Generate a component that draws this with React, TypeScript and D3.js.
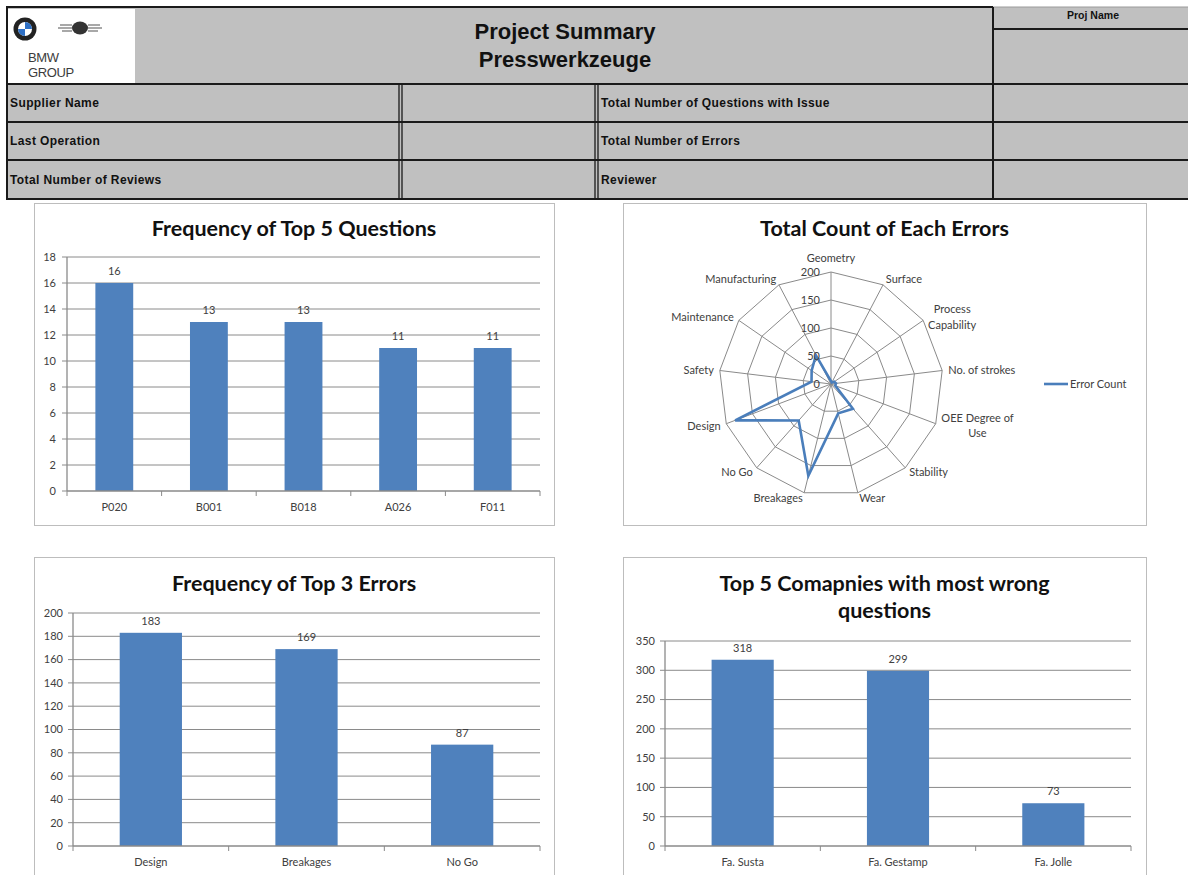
import React from "react";
import * as d3 from "d3";

// ---------- data ----------
const questionCats = ["P020", "B001", "B018", "A026", "F011"];
const questionVals = [16, 13, 13, 11, 11];

const errorAxes = [
  "Geometry", "Surface", "Process Capability", "No. of strokes", "OEE Degree of Use",
  "Stability", "Wear", "Breakages", "No Go", "Design", "Safety", "Maintenance", "Manufacturing",
];
const errorLabelLines = [
  ["Geometry"], ["Surface"], ["Process", "Capability"], ["No. of strokes"], ["OEE Degree of", "Use"],
  ["Stability"], ["Wear"], ["Breakages"], ["No Go"], ["Design"], ["Safety"], ["Maintenance"], ["Manufacturing"],
];
const errorVals = [5, 3, 7, 9, 8, 59, 54, 169, 87, 183, 35, 42, 58];
const radarTicks = [0, 50, 100, 150, 200];

const top3Cats = ["Design", "Breakages", "No Go"];
const top3Vals = [183, 169, 87];

const companyCats = ["Fa. Susta", "Fa. Gestamp", "Fa. Jolle"];
const companyVals = [318, 299, 73];

// ---------- style ----------
const BAR = "#4f81bd";
const LINE = "#4a7ebb";
const GRID = "#8a8a8a";
const TXT = "#404040";
const CHART_FONT = "Lato, 'Open Sans', sans-serif";
const HEAD_FONT = "'Liberation Sans', Arial, sans-serif";
const HEAD_GRAY = "#c0c0c0";
const FS = 11;

let _ctx: CanvasRenderingContext2D | null = null;
function textW(s: string, font: string) {
  if (!_ctx) _ctx = document.createElement("canvas").getContext("2d");
  if (!_ctx) return s.length * 5.5;
  _ctx.font = font;
  return _ctx.measureText(s).width;
}

function BarChart(props: {
  x0: number; x1: number; yBottom: number; yTop: number;
  cats: string[]; vals: number[]; max: number; step: number;
  labelRight: number;
}) {
  const { x0, x1, yBottom, yTop, cats, vals, max, step, labelRight } = props;
  const x = d3.scaleBand<string>().domain(cats).range([x0, x1]).paddingInner(0.6).paddingOuter(0.3);
  const y = d3.scaleLinear().domain([0, max]).range([yBottom, yTop]);
  const ticks = d3.range(0, max + step / 2, step);
  const bandStep = x.step();
  return (
    <g>
      {ticks.map((t) => (
        <g key={t}>
          {t > 0 && <line x1={x0} x2={x1} y1={y(t)} y2={y(t)} stroke={GRID} strokeWidth={1} />}
          <line x1={x0 - 5} x2={x0} y1={y(t)} y2={y(t)} stroke={GRID} strokeWidth={1} />
          <text x={labelRight} y={y(t)} dy="0.35em" textAnchor="end" fontSize={FS} fill={TXT} fontFamily={CHART_FONT}>{t}</text>
        </g>
      ))}
      {cats.map((c, i) => (
        <g key={c}>
          <rect x={x(c)} y={y(vals[i])} width={x.bandwidth()} height={yBottom - y(vals[i])} fill={BAR} />
          <text x={(x(c) as number) + x.bandwidth() / 2} y={y(vals[i]) - 8} textAnchor="middle" fontSize={FS} fill={TXT} fontFamily={CHART_FONT}>{vals[i]}</text>
          <text x={(x(c) as number) + x.bandwidth() / 2} y={yBottom + 20} textAnchor="middle" fontSize={FS} fill={TXT} fontFamily={CHART_FONT}>{c}</text>
        </g>
      ))}
      {d3.range(cats.length + 1).map((i) => (
        <line key={"t" + i} x1={x0 + i * bandStep} x2={x0 + i * bandStep} y1={yBottom} y2={yBottom + 5} stroke={GRID} strokeWidth={1} />
      ))}
      <line x1={x0} x2={x0} y1={yTop} y2={yBottom} stroke={GRID} strokeWidth={1.3} />
      <line x1={x0} x2={x1} y1={yBottom} y2={yBottom} stroke={GRID} strokeWidth={1.3} />
    </g>
  );
}

function Radar() {
  const cx = 831, cy = 384, R = 112;
  const n = errorAxes.length;
  const r = d3.scaleLinear().domain([0, 200]).range([0, R]);
  const ang = (i: number) => (i * 2 * Math.PI) / n;
  const ring = d3.lineRadial<number>().angle((_, i) => ang(i)).curve(d3.curveLinearClosed);
  const dataLine = d3
    .lineRadial<number>()
    .angle((_, i) => ang(i))
    .radius((v) => r(v))
    .curve(d3.curveLinearClosed);
  const fs = FS;
  const font = `${fs}px ${CHART_FONT}`;
  const lineH = 15.5;
  return (
    <g>
      <g transform={`translate(${cx},${cy})`}>
        {radarTicks.filter((t) => t > 0).map((t) => (
          <path key={t} d={ring.radius(() => r(t))(errorAxes.map(() => 0)) || ""} fill="none" stroke={GRID} strokeWidth={1} />
        ))}
        {errorAxes.map((a, i) => (
          <line key={a} x1={0} y1={0} x2={R * Math.sin(ang(i))} y2={-R * Math.cos(ang(i))} stroke={GRID} strokeWidth={1} />
        ))}
        <path d={dataLine(errorVals) || ""} fill="none" stroke={LINE} strokeWidth={2.6} strokeLinejoin="miter" />
        {radarTicks.map((t) => (
          <text key={t} x={-11} y={-r(t)} dy="0.35em" textAnchor="end" fontSize={fs} fill={TXT} fontFamily={CHART_FONT}>{t}</text>
        ))}
      </g>
      {errorLabelLines.map((lines, i) => {
        const s = Math.sin(ang(i)), c = Math.cos(ang(i));
        const lx = cx + (R + 6) * s;
        let ly = cy - (R + 6) * c;
        const w = Math.max(...lines.map((l) => textW(l, font)));
        const h = lines.length * lineH;
        let center = lx;
        if (s > 0.15) center = lx + w / 2;
        else if (s < -0.15) center = lx - w / 2;
        else ly = ly - (c > 0 ? lineH / 2 : -lineH / 2);
        const top = ly - h / 2 + lineH / 2;
        return (
          <g key={i}>
            {lines.map((l, j) => (
              <text key={j} x={center} y={top + j * lineH} dy="0.35em" textAnchor="middle" fontSize={fs} fill={TXT} fontFamily={CHART_FONT}>{l}</text>
            ))}
          </g>
        );
      })}
      <line x1={1044} x2={1068} y1={384} y2={384} stroke={LINE} strokeWidth={2.6} />
      <text x={1070} y={384} dy="0.35em" fontSize={fs} fill={TXT} fontFamily={CHART_FONT}>Error Count</text>
    </g>
  );
}

function Header() {
  const lblStyle = { fontFamily: HEAD_FONT, fontWeight: 700, fontSize: 12, letterSpacing: 0.4, fill: "#111" } as const;
  const rows = [
    { y0: 84, y1: 122, l: "Supplier Name", r: "Total Number of Questions with Issue" },
    { y0: 122, y1: 160, l: "Last Operation", r: "Total Number of Errors" },
    { y0: 160, y1: 199, l: "Total Number of Reviews", r: "Reviewer" },
  ];
  const dark = "#1a1a1a";
  return (
    <g>
      <rect x={6} y={7} width={1182} height={192} fill={HEAD_GRAY} />
      {/* logo */}
      <rect x={8} y={9} width={127} height={74} fill="#ffffff" />
      <circle cx={25} cy={29} r={11.5} fill="#222" />
      <circle cx={25} cy={29} r={7} fill="#ffffff" />
      <path d="M25,29 L25,22 A7,7 0 0 1 32,29 Z" fill="#2d6fc4" />
      <path d="M25,29 L25,36 A7,7 0 0 1 18,29 Z" fill="#2d6fc4" />
      <path d="M58,28 L72,28 M60,25 L72,25 M62,31 L72,31 M102,28 L88,28 M100,25 L88,25 M98,31 L88,31" stroke="#8c8c8c" strokeWidth={1.5} />
      <ellipse cx={80} cy={28} rx={8} ry={6.5} fill="#333" />
      <text x={28} y={62} fontFamily={HEAD_FONT} fontSize={13} fill="#3c3c3c" letterSpacing={-0.4}>BMW</text>
      <text x={28} y={77} fontFamily={HEAD_FONT} fontSize={13} fill="#3c3c3c" letterSpacing={-0.4}>GROUP</text>
      {/* title */}
      <text x={565} y={39} textAnchor="middle" fontFamily={HEAD_FONT} fontWeight={700} fontSize={22} fill="#111">Project Summary</text>
      <text x={565} y={67} textAnchor="middle" fontFamily={HEAD_FONT} fontWeight={700} fontSize={22} fill="#111">Presswerkzeuge</text>
      <text x={1093} y={19} textAnchor="middle" fontFamily={HEAD_FONT} fontWeight={700} fontSize={10.5} fill="#111">Proj Name</text>
      {/* lines */}
      <line x1={6} x2={993} y1={7} y2={7} stroke={dark} strokeWidth={2} />
      <line x1={993} x2={1188} y1={7} y2={7} stroke="#9a9a9a" strokeWidth={1} />
      <line x1={993} x2={1188} y1={29} y2={29} stroke={dark} strokeWidth={2} />
      <line x1={6} x2={1188} y1={84} y2={84} stroke={dark} strokeWidth={2} />
      <line x1={6} x2={1188} y1={122} y2={122} stroke={dark} strokeWidth={2} />
      <line x1={6} x2={1188} y1={160} y2={160} stroke={dark} strokeWidth={2} />
      <line x1={6} x2={1188} y1={199} y2={199} stroke={dark} strokeWidth={2} />
      <line x1={7} x2={7} y1={7} y2={200} stroke={dark} strokeWidth={2} />
      <line x1={993} x2={993} y1={7} y2={200} stroke={dark} strokeWidth={2} />
      <line x1={399} x2={399} y1={84} y2={200} stroke={dark} strokeWidth={1.3} />
      <line x1={402} x2={402} y1={84} y2={200} stroke={dark} strokeWidth={1.3} />
      <line x1={595} x2={595} y1={84} y2={200} stroke={dark} strokeWidth={1.3} />
      <line x1={598} x2={598} y1={84} y2={200} stroke={dark} strokeWidth={1.3} />
      {rows.map((rw) => (
        <g key={rw.l}>
          <text x={10} y={(rw.y0 + rw.y1) / 2} dy="0.35em" {...lblStyle}>{rw.l}</text>
          <text x={601} y={(rw.y0 + rw.y1) / 2} dy="0.35em" {...lblStyle}>{rw.r}</text>
        </g>
      ))}
    </g>
  );
}

function Panel(props: { x: number; y: number; w: number; h: number; titles: string[]; ty: number }) {
  const { x, y, w, h, titles, ty } = props;
  return (
    <g>
      <rect x={x + 0.5} y={y + 0.5} width={w} height={h} fill="#ffffff" stroke="#bdbdbd" strokeWidth={1} />
      {titles.map((t, i) => (
        <text key={i} x={x + w / 2} y={ty + i * 27} dy="0.35em" textAnchor="middle" fontFamily={CHART_FONT} fontWeight={700} fontSize={21.5} fill="#111">{t}</text>
      ))}
    </g>
  );
}

export default function App() {
  return (
    <svg width={1188} height={875} style={{ position: "absolute", left: 0, top: 0, background: "#ffffff" }}>
      <Header />
      <Panel x={34} y={203} w={520} h={322} titles={["Frequency of Top 5 Questions"]} ty={228} />
      <BarChart x0={67} x1={540} yBottom={491} yTop={257} cats={questionCats} vals={questionVals} max={18} step={2} labelRight={56} />
      <Panel x={623} y={203} w={523} h={322} titles={["Total Count of Each Errors"]} ty={228} />
      <Radar />
      <Panel x={34} y={557} w={520} h={330} titles={["Frequency of Top 3 Errors"]} ty={583} />
      <BarChart x0={73} x1={540} yBottom={846} yTop={613} cats={top3Cats} vals={top3Vals} max={200} step={20} labelRight={63} />
      <Panel x={623} y={557} w={523} h={330} titles={["Top 5 Comapnies with most wrong", "questions"]} ty={583} />
      <BarChart x0={665} x1={1131} yBottom={846} yTop={641} cats={companyCats} vals={companyVals} max={350} step={50} labelRight={655} />
    </svg>
  );
}
